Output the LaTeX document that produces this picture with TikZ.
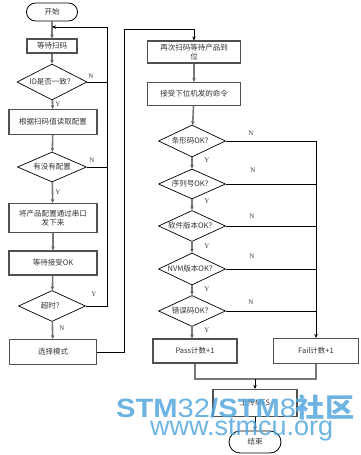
\documentclass[tikz,border=0pt]{standalone}
\usepackage{fontspec}
\setmainfont{Noto Sans CJK SC}
\newfontfamily\lab{Liberation Serif}
\newfontfamily\wmf{Liberation Sans}
\newfontfamily\wmcjk{Noto Sans CJK SC}
\usetikzlibrary{shapes.geometric,arrows.meta}
\definecolor{edge}{RGB}{80,80,80}
\definecolor{flow}{RGB}{120,120,120}
\definecolor{wm}{RGB}{84,167,222}
\begin{document}
\begin{tikzpicture}[x=1pt,y=-1pt,
  every node/.style={font=\fontsize{7.5}{9}\selectfont, text=black!80, inner sep=0pt},
  boxn/.style={draw=edge, line width=1.1pt, rectangle, align=center},
  term/.style={draw=black, line width=0.8pt, rectangle, rounded corners=9pt, align=center},
  dec/.style={draw=black, line width=0.7pt, diamond, aspect=2, align=center},
  flowline/.style={draw=flow, line width=1.6pt},
  arr/.style={flowline, -{Stealth[length=4pt,width=3.5pt,color=flow!80!black]}},
  thin/.style={draw=black, line width=0.7pt},
  thinarr/.style={thin, -{Stealth[length=4pt,width=3.5pt]}},
  yn/.style={font=\lab\fontsize{7}{8}\selectfont, text=black!75}
]
\useasboundingbox (0,0) rectangle (360,455);
% left column
\node[term, minimum width=51pt, minimum height=18pt] (start) at (52,12) {开始};
\node[boxn, minimum width=50pt, minimum height=14pt] (b1) at (52,46) {等待扫码};
\node[dec, minimum width=70pt, minimum height=36pt] (d1) at (52,82) {ID是否一致？};
\node[boxn, minimum width=88pt, minimum height=25pt] (b2) at (53,122) {根据扫码值读取配置};
\node[dec, minimum width=69pt, minimum height=30pt] (d2) at (52,167) {有没有配置};
\node[boxn, minimum width=88pt, minimum height=29pt] (b3) at (53,218) {将产品配置通过串口\\发下来};
\node[boxn, minimum width=88pt, minimum height=24pt] (b4) at (53,263) {等待接受OK};
\node[dec, minimum width=67pt, minimum height=31pt] (d3) at (52,306) {超时？};
\node[boxn, minimum width=87pt, minimum height=25pt] (b5) at (53,352) {选择模式};
% right column
\node[boxn, minimum width=93pt, minimum height=22pt] (b6) at (194,52) {再次扫码等待产品到\\位};
\node[boxn, minimum width=93pt, minimum height=23pt] (b7) at (194,94) {接受下位机发的命令};
\node[dec, minimum width=67pt, minimum height=32pt] (d4) at (192,141) {条形码OK？};
\node[dec, minimum width=67pt, minimum height=30pt] (d5) at (192,184) {序列号OK？};
\node[dec, minimum width=67pt, minimum height=31pt] (d6) at (192,226) {软件版本OK？};
\node[dec, minimum width=67pt, minimum height=32pt] (d7) at (192,269) {NVM版本OK？};
\node[dec, minimum width=67pt, minimum height=31pt] (d8) at (192,311) {错误码OK？};
\node[boxn, minimum width=84pt, minimum height=24pt] (pass) at (195,351) {Pass计数+1};
\node[boxn, minimum width=85pt, minimum height=25pt] (fail) at (316,351) {Fail计数+1};
\node[boxn, minimum width=84pt, minimum height=27pt] (mes) at (255,403) {上传MES};
\node[term, minimum width=52pt, minimum height=22pt, rounded corners=11pt] (end) at (255,442) {结束};
% coordinates
\coordinate (j1) at (52,27);
\coordinate (lp1) at (107,82);
\coordinate (lp3) at (107,306);
\coordinate (lp2) at (107,167);
\coordinate (r1) at (124,352);
\coordinate (r2) at (124,29);
\coordinate (r3) at (194,29);
\coordinate (f1) at (316,141);
\coordinate (m1) at (195,379);
\coordinate (m2) at (316,379);
\coordinate (m3) at (255,379);
% left flow
\draw[arr] (start) -- (b1);
\draw[arr] (b1) -- (d1);
\draw[arr] (d1) -- (b2);
\draw[arr] (b2) -- (d2);
\draw[arr] (d2) -- (b3);
\draw[arr] (b3) -- (b4);
\draw[arr] (b4) -- (d3);
\draw[arr] (d3) -- (b5);
\draw[thin] (d1.east) -- (lp1);
\draw[thin] (d2.east) -- (lp2);
\draw[thin] (d3.east) -- (lp3) -- (lp1);
\draw[thinarr] (lp1) |- (j1);
\draw[thin] (b5.east) -- (r1) -- (r2) -- (r3);
\draw[thinarr] (r3) -- (b6.north);
% right flow
\draw[arr] (b6) -- (b7);
\draw[arr] (b7) -- (d4);
\draw[arr] (d4) -- (d5);
\draw[arr] (d5) -- (d6);
\draw[arr] (d6) -- (d7);
\draw[arr] (d7) -- (d8);
\draw[arr] (d8.south) -- (d8.south |- pass.north);
\draw[thin] (d4.east) -- (f1);
\draw[thin] (d5.east) -- (d5.east -| f1);
\draw[thin] (d6.east) -- (d6.east -| f1);
\draw[thin] (d7.east) -- (d7.east -| f1);
\draw[thin] (d8.east) -- (d8.east -| f1);
\draw[thinarr] (f1) -- (fail.north);
\draw[flowline] (pass.south) -- (m1) -- (m2) -- (fail.south);
\draw[thinarr] (m3) -- (mes.north);
\draw[thinarr] (mes.south) -- (end.north);
% labels
\node[yn] (n1) at (91,76) {N};
\node[yn] (y1) at (58,104) {Y};
\node[yn] (n2) at (92,160) {N};
\node[yn] (y2) at (58,192) {Y};
\node[yn] (y3) at (94,294) {Y};
\node[yn] (n3) at (62,328) {N};
\node[yn] (n4) at (251,133) {N};
\node[yn] (y4) at (207,160) {Y};
\node[yn] (n5) at (253,170) {N};
\node[yn] (y5) at (207,201) {Y};
\node[yn] (n6) at (252,216) {N};
\node[yn] (y6) at (207,246) {Y};
\node[yn] (n7) at (252,256) {N};
\node[yn] (y7) at (207,289) {Y};
\node[yn] (n8) at (251,302) {N};
\node[yn] (y8) at (207,330) {Y};
% watermark
\node[anchor=base west, text=wm, opacity=0.85, font=\wmf\fontsize{26.5}{28}\selectfont, inner sep=0pt] (wm1) at (116,417)
  {\scalebox{1.1}[1]{\textbf{STM}32\textbf{/STM}8{\wmcjk\bfseries 社区}}};
\node[anchor=base west, text=wm, opacity=0.85, font=\wmf\fontsize{27}{28}\selectfont, inner sep=0pt] (wm2) at (150,435)
  {www.stmcu.org};
\end{tikzpicture}
\end{document}
